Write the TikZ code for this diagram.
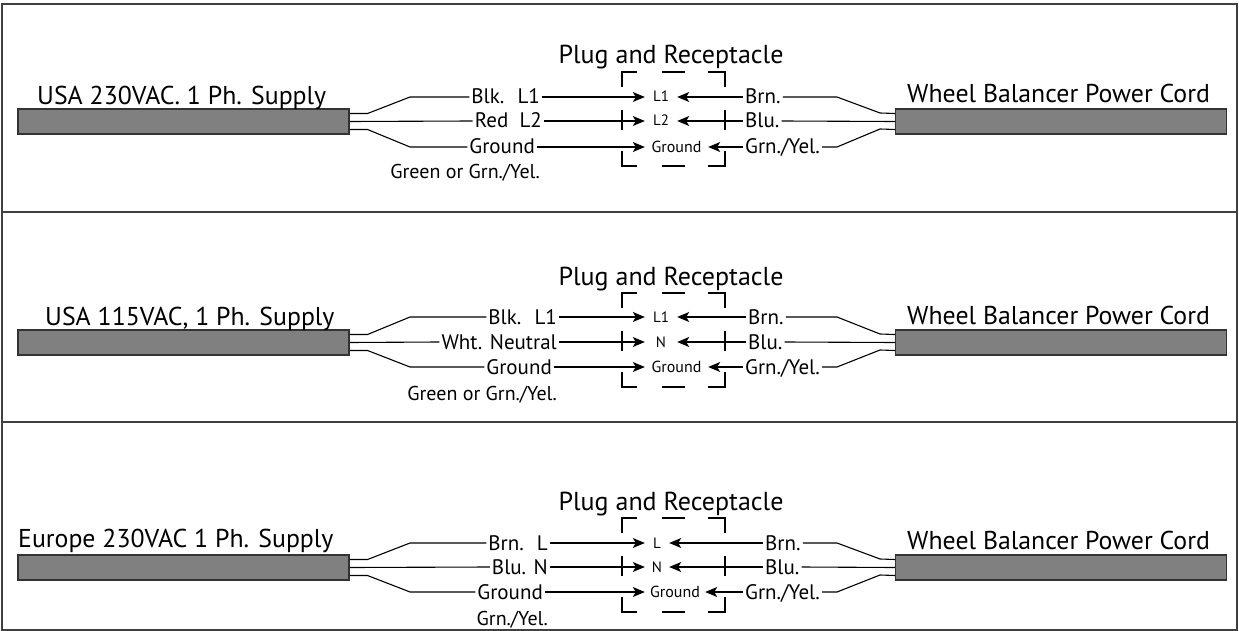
\documentclass[tikz,border=0pt]{standalone}
\usepackage{fontspec}
\setmainfont{PT Sans}
\usetikzlibrary{arrows.meta,calc,positioning}

\tikzset{
  frame/.style={draw=black!75, line width=1.6pt},
  cable/.style={draw=black!80, fill=black!50, line width=1.1pt,
    minimum width=331pt, minimum height=25pt, inner sep=0pt},
  wire/.style={line width=1.1pt},
  feed/.style={wire, -{Stealth[length=12pt,width=10pt,inset=3pt]}},
  title/.style={font=\fontsize{25.8}{30}\selectfont, inner sep=0pt, anchor=base west},
  plugtitle/.style={font=\fontsize{26}{30}\selectfont, inner sep=0pt, anchor=base},
  wirelbl/.style={font=\fontsize{21}{24}\selectfont, inner sep=2pt,
    text height=14pt, text depth=0pt},
  note/.style={font=\fontsize{20}{24}\selectfont, inner sep=0pt, anchor=east},
  pin/.style={font=\fontsize{15}{17}\selectfont, inner sep=0pt,
    text height=10pt, text depth=0pt, minimum width=32pt},
  gnd/.style={font=\fontsize{16}{18}\selectfont, inner sep=0pt,
    text height=11pt, text depth=0pt, minimum width=63pt},
}

\begin{document}
\begin{tikzpicture}[x=1pt, y=-1pt]
\useasboundingbox (0,0) rectangle (1239,631);

% panels
\draw[frame] (2,4) rectangle (1237,630);
\draw[frame] (2,212) -- (1237,212);
\draw[frame] (2,422) -- (1237,422);

% parts that repeat in every panel
\foreach \p/\m/\ra/\rc/\rx in {A/121/97/147/743, B/342/317/367/746, C/567/543/592/763}{
  \node[cable] (supply\p) at (183.5,\m+0.5) {};
  \node[cable] (cord\p) at (1061,\m+0.5) {};
  \node[title] (cordtitle\p) at (907,\m-18) {Wheel Balancer Power Cord};
  \node[plugtitle] (plugtitle\p) at (671,\m-57) {Plug and Receptacle};
  % dashed plug outline
  \draw[wire] (622,\m-34) -- (622,\m-49) -- (637,\m-49);
  \draw[wire] (662,\m-49) -- (685,\m-49);
  \draw[wire] (708,\m-49) -- (725,\m-49) -- (725,\m-34);
  \draw[wire] (622,\m-11) -- (622,\m+9);
  \draw[wire] (725,\m-11) -- (725,\m+9);
  \draw[wire] (622,\m+30) -- (622,\m+45) -- (637,\m+45);
  \draw[wire] (662,\m+45) -- (685,\m+45);
  \draw[wire] (708,\m+45) -- (725,\m+45) -- (725,\m+30);
  % cord side
  \node[wirelbl, anchor=west] (rlbl\p1) at (\rx,\ra) {Brn.};
  \node[wirelbl, anchor=west] (rlbl\p2) at (\rx,\m) {Blu.};
  \node[wirelbl, anchor=west] (rlbl\p3) at (743,\rc) {Grn./Yel.};
}

% USA 230 V
\node[title] (titleA) at (37,105) {USA 230VAC. 1 Ph. Supply};
\node[wirelbl, anchor=east] (lblA1) at (542,97) {Blk.~ L1};
\node[wirelbl, anchor=east] (lblA2) at (544,121) {Red~ L2};
\node[wirelbl, anchor=east] (lblA3) at (537,147) {Ground};
\node[note] (noteA) at (540,173) {Green or Grn./Yel.};
\node[pin] (pinA1) at (661,97) {L1};
\node[pin] (pinA2) at (661,121) {L2};
\node[gnd] (pinA3) at (676.5,147) {Ground};

% USA 115 V
\node[title] (titleB) at (45,325) {USA 115VAC, 1 Ph. Supply};
\node[wirelbl, anchor=east] (lblB1) at (559,317) {Blk.~ L1};
\node[wirelbl, anchor=east] (lblB2) at (559,342) {Wht. Neutral};
\node[wirelbl, anchor=east] (lblB3) at (554,367) {Ground};
\node[note] (noteB) at (557,395) {Green or Grn./Yel.};
\node[pin] (pinB1) at (661,317) {L1};
\node[pin] (pinB2) at (661,342) {N};
\node[gnd] (pinB3) at (676.5,367) {Ground};

% Europe 230 V
\node[title] (titleC) at (18,547) {Europe 230VAC 1 Ph. Supply};
\node[wirelbl, anchor=east] (lblC1) at (550,543) {Brn.~ L};
\node[wirelbl, anchor=east] (lblC2) at (550,567) {Blu. N};
\node[wirelbl, anchor=east] (lblC3) at (545,592) {Ground};
\node[note] (noteC) at (548,620) {Grn./Yel.};
\node[pin, minimum width=24pt] (pinC1) at (657,543) {L};
\node[pin, minimum width=24pt] (pinC2) at (657,567) {N};
\node[gnd, minimum width=60pt] (pinC3) at (675,592) {Ground};

% wires and arrows
\foreach \p/\m/\ra/\rc in {A/121/97/147, B/342/317/367, C/567/543/592}{
  \draw[wire] ($(supply\p.east)+(0,-8)$) -- ++(18,0) -- (410,\ra) -- (lbl\p1.west);
  \draw[wire] (supply\p.east) -- (lbl\p2.west);
  \draw[wire] ($(supply\p.east)+(0,8)$) -- ++(18,0) -- (410,\rc) -- (lbl\p3.west);
  \draw[wire] (rlbl\p1.east) -- (837,\ra) -- (880,\m-8) -- ($(cord\p.west)+(0,-8)$);
  \draw[wire] (rlbl\p2.east) -- (cord\p.west);
  \draw[wire] (rlbl\p3.east) -- (837,\rc) -- (880,\m+8) -- ($(cord\p.west)+(0,8)$);
  \foreach \r in {1,2,3}{
    \draw[feed] (lbl\p\r.east) -- (pin\p\r.west);
    \draw[feed] (rlbl\p\r.west) -- (pin\p\r.east);
  }
}
\end{tikzpicture}
\end{document}
